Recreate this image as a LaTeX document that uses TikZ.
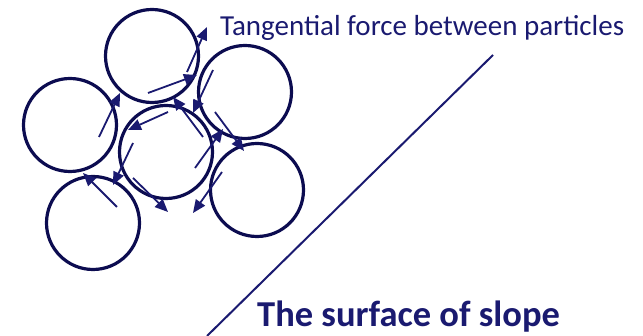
\documentclass[tikz,border=0pt]{standalone}
\usepackage{fontspec}
\setmainfont{Carlito}
\usepackage{tikz}
\usetikzlibrary{arrows.meta}
\definecolor{navy}{RGB}{12,12,80}
\definecolor{forceblue}{RGB}{26,26,112}

\begin{document}
\begin{tikzpicture}[x=1pt, y=-1pt,
    grain/.style={draw=navy, line width=3.2pt, circle, minimum size=93pt, inner sep=0pt},
    force/.style={draw=forceblue, line width=1.8pt, -{Triangle[length=13pt, width=11pt]}},
    label/.style={text=forceblue, inner sep=0pt, anchor=base west},
]
\useasboundingbox (0,0) rectangle (643,336);

% Particles
\node[grain] (top)    at (152, 56)  {};
\node[grain] (left)   at (70, 125)  {};
\node[grain] (centre) at (166, 152) {};
\node[grain] (upright) at (245, 92) {};
\node[grain] (lowright) at (257, 190) {};
\node[grain] (lowleft) at (93, 223) {};

% Tangential forces at the contacts
\draw[force] (187, 72)  -- (207, 27);
\draw[force] (148, 93)  -- (197, 75);
\draw[force] (99, 137)  -- (120, 93);
\draw[force] (168, 112) -- (128, 130);
\draw[force] (203, 137) -- (173, 97);
\draw[force] (213, 70)  -- (193, 113);
\draw[force] (215, 112) -- (244, 151);
\draw[force] (195, 168) -- (223, 129);
\draw[force] (133, 143) -- (113, 185);
\draw[force] (117, 207) -- (83, 173);
\draw[force] (133, 178) -- (168, 212);
\draw[force] (222, 172) -- (193, 213);

% Slope
\draw[forceblue, line width=2pt] (493, 55) -- (207, 336);

% Labels
\node[label, font=\fontsize{29}{34}\selectfont] (tlabel) at (220, 36) {Tangential force between particles};
\node[label, font=\fontsize{36.5}{42}\selectfont\bfseries] (slabel) at (257, 327) {The surface of slope};
\end{tikzpicture}
\end{document}
